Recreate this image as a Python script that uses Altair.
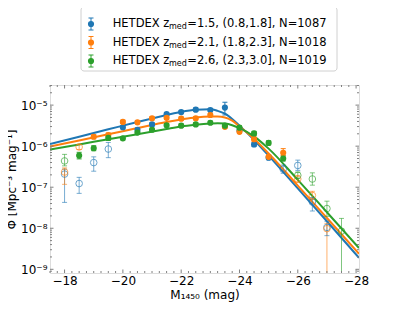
import altair as alt
import numpy as np
import pandas as pd

# ---------------- data ----------------
mag_bins = [-18.0, -18.5, -19.0, -19.5, -20.0, -20.5, -21.0, -21.5, -22.0, -22.5,
            -23.0, -23.5, -24.0, -24.5, -25.0, -25.5, -26.0, -26.5, -27.0, -27.5]

series_names = ["z1.5", "z2.1", "z2.6"]
series_colors = ["#1f77b4", "#ff7f0e", "#2ca02c"]

# log10 Phi for each bin (None = no point)
logphi_15 = [-6.68, -6.91, -6.40, -6.07, -5.54, -5.60, -5.47, -5.22, -5.17, -5.11,
             -5.12, -5.06, -5.62, -5.96, -6.28, -6.56, -6.47, -7.36, -7.98, None]
errup_15 = [0.12, 0.15, 0.14, 0.16, 0.04, 0.04, 0.04, 0.04, 0.04, 0.04,
            0.04, 0.13, 0.04, 0.05, 0.05, 0.10, 0.13, 0.11, 0.15, None]
errdn_15 = [0.69, 0.24, 0.21, 0.21, 0.04, 0.04, 0.04, 0.04, 0.04, 0.04,
            0.04, 0.18, 0.04, 0.05, 0.05, 0.10, 0.12, 0.22, 0.20, None]
open_15 = [1, 1, 1, 1, 0, 0, 0, 0, 0, 0, 0, 0, 0, 0, 0, 1, 1, 1, 1, None]

logphi_21 = [-6.63, -6.02, -5.77, -5.73, -5.41, -5.42, -5.32, -5.31, -5.33, -5.32,
             -5.24, -5.53, -5.65, -5.83, -6.26, -6.16, -6.80, -7.20, -8.01, None]
errup_21 = [0.10, 0.06, 0.05, 0.05, 0.04, 0.04, 0.04, 0.04, 0.04, 0.04,
            0.04, 0.04, 0.04, 0.05, 0.05, 0.10, 0.08, 0.10, 0.13, None]
errdn_21 = [0.30, 0.06, 0.05, 0.05, 0.04, 0.04, 0.04, 0.04, 0.04, 0.04,
            0.04, 0.04, 0.04, 0.05, 0.05, 0.07, 0.08, 0.10, 3.00, None]
open_21 = [1, 1, 0, 0, 0, 0, 0, 0, 0, 0, 0, 0, 0, 0, 0, 0, 1, 1, 1, None]

logphi_26 = [-6.36, -6.23, -6.05, -5.80, -5.81, -5.67, -5.60, -5.49, -5.50, -5.47,
             -5.43, -5.50, -5.55, -5.69, -5.92, -6.30, -6.71, -6.80, -7.52, -8.07]
errup_26 = [0.16, 0.08, 0.06, 0.06, 0.04, 0.04, 0.04, 0.04, 0.04, 0.04,
            0.04, 0.04, 0.04, 0.05, 0.05, 0.06, 0.08, 0.15, 0.18, 0.31]
errdn_26 = [0.12, 0.08, 0.06, 0.06, 0.04, 0.04, 0.04, 0.04, 0.04, 0.04,
            0.04, 0.04, 0.04, 0.05, 0.05, 0.06, 0.08, 0.15, 0.19, 3.00]
open_26 = [1, 0, 0, 0, 0, 0, 0, 0, 0, 0, 0, 0, 0, 0, 0, 0, 1, 1, 1, 1]

# fitted double power-law curves
curve_mags = [-17.5, -18.5, -19.5, -20.5, -21.5, -22.0, -22.5, -23.0, -23.25, -23.5,
              -23.75, -24.0, -24.5, -25.0, -26.0, -27.0, -28.1]
curve_15 = [-5.95, -5.77, -5.59, -5.41, -5.24, -5.16, -5.11, -5.10, -5.14, -5.21,
            -5.34, -5.50, -5.85, -6.23, -7.03, -7.83, -8.72]
curve_21 = [-6.01, -5.86, -5.71, -5.56, -5.41, -5.35, -5.30, -5.28, -5.28, -5.30,
            -5.38, -5.52, -5.82, -6.18, -6.96, -7.75, -8.62]
curve_26 = [-6.08, -5.96, -5.83, -5.71, -5.58, -5.52, -5.48, -5.45, -5.44, -5.45,
            -5.49, -5.56, -5.76, -6.06, -6.82, -7.61, -8.48]

legend_left = ["HETDEX z", "HETDEX z", "HETDEX z"]
legend_sub = ["med", "med", "med"]
legend_right = ["=1.5, (0.8,1.8], N=1087",
                "=2.1, (1.8,2.3], N=1018",
                "=2.6, (2.3,3.0], N=1019"]

x_major = [-18, -20, -22, -24, -26, -28]
y_major_exp = [-9, -8, -7, -6, -5]

# ---------------- build tables ----------------
rows = []
for name, lp, eu, ed, op in [
    ("z1.5", logphi_15, errup_15, errdn_15, open_15),
    ("z2.1", logphi_21, errup_21, errdn_21, open_21),
    ("z2.6", logphi_26, errup_26, errdn_26, open_26),
]:
    for m, v, u, d, o in zip(mag_bins, lp, eu, ed, op):
        if v is None:
            continue
        rows.append(dict(series=name, mag=m, phi=10 ** v, hi=10 ** (v + u),
                         lo=10 ** (v - d), open=o, alpha=0.6 if o else 1.0))
pts = pd.DataFrame(rows)

crow = []
for name, cv in [("z1.5", curve_15), ("z2.1", curve_21), ("z2.6", curve_26)]:
    for m, v in zip(curve_mags, cv):
        crow.append(dict(series=name, mag=m, phi=10 ** v))
curves = pd.DataFrame(crow)

x_minor = [v for v in np.arange(-17.5, -28.01, -0.25) if abs(v - round(v / 2) * 2) > 1e-6]
y_minor = [k * 10.0 ** e for e in range(-10, -4) for k in range(2, 10)]
ymin, ymax = 10 ** -9.09, 10 ** -4.51
y_minor = [v for v in y_minor if ymin < v < ymax]
df_xmaj = pd.DataFrame({"v": x_major})
df_xmin = pd.DataFrame({"v": x_minor})
df_ymaj = pd.DataFrame({"v": [10.0 ** e for e in y_major_exp]})
df_ymin = pd.DataFrame({"v": y_minor})

# ---------------- styling ----------------
W, H = 309, 188
FONT = "DejaVu Sans"
FRAME = "#808080"
xscale = alt.Scale(domain=[-28.1, -17.5], reverse=True, nice=False, zero=False)
yscale = alt.Scale(type="log", domain=[ymin, ymax], nice=False)
cscale = alt.Scale(domain=series_names, range=series_colors)

xaxis = alt.Axis(values=x_major, ticks=False, domain=False, grid=False,
                 labelExpr="'\u2212' + abs(datum.value)", labelFont=FONT, labelFontSize=12,
                 labelColor="black", labelPadding=2, title="M\u2081\u2084\u2085\u2080 (mag)",
                 titleFont=FONT, titleFontSize=12, titleFontWeight="normal",
                 titleColor="black", titlePadding=3, labelFlush=False, labelOverlap=False)
yaxis = alt.Axis(values=[10.0 ** e for e in y_major_exp], ticks=False, domain=False, grid=False,
                 labelExpr="'10\u207b' + ['\u2070','\u00b9','\u00b2','\u00b3','\u2074','\u2075','\u2076','\u2077','\u2078','\u2079'][-round(log(datum.value)/LN10)]",
                 labelFont=FONT, labelFontSize=12, labelColor="black", labelPadding=3,
                 title="\u03a6 [Mpc\u207b\u00b3 mag\u207b\u00b9]", titleFont=FONT, titleFontSize=12,
                 titleFontWeight="normal", titleColor="black",
                 titleX=-38.5, titleY=H / 2, titleAngle=270, titleAlign="center",
                 titleBaseline="middle",
                 labelFlush=False, labelOverlap=False)

X = lambda f: alt.X(f, type="quantitative", scale=xscale, axis=xaxis)
Y = lambda f: alt.Y(f, type="quantitative", scale=yscale, axis=yaxis)
C = alt.Color("series:N", scale=cscale, legend=None)

lines = alt.Chart(curves).mark_line(strokeWidth=2, interpolate="monotone", clip=True).encode(
    x=X("mag"), y=Y("phi"), color=C, detail="series:N")

ebars = alt.Chart(pts).mark_rule(strokeWidth=1, clip=True).encode(
    x=X("mag"), y=Y("lo"), y2="hi:Q", color=C, opacity=alt.Opacity("alpha:Q", scale=None))
cap_lo = alt.Chart(pts).mark_tick(orient="horizontal", size=5, thickness=1, clip=True).encode(
    x=X("mag"), y=Y("lo"), color=C, opacity=alt.Opacity("alpha:Q", scale=None))
cap_hi = alt.Chart(pts).mark_tick(orient="horizontal", size=5, thickness=1, clip=True).encode(
    x=X("mag"), y=Y("hi"), color=C, opacity=alt.Opacity("alpha:Q", scale=None))

filled = alt.Chart(pts).transform_filter("datum.open == 0").mark_point(
    filled=True, shape="circle", size=38, opacity=1).encode(x=X("mag"), y=Y("phi"), color=C)
hollow = alt.Chart(pts).transform_filter("datum.open == 1").mark_point(
    filled=False, shape="circle", size=44, strokeWidth=1, opacity=0.65).encode(
    x=X("mag"), y=Y("phi"), color=C)

tick_layers = []
for df, ln in [(df_xmaj, 3.5), (df_xmin, 2)]:
    tick_layers.append(alt.Chart(df).mark_rule(color=FRAME, strokeWidth=1).encode(
        x=X("v"), y=alt.value(H), y2=alt.value(H - ln)))
    tick_layers.append(alt.Chart(df).mark_rule(color=FRAME, strokeWidth=1).encode(
        x=X("v"), y=alt.value(0), y2=alt.value(ln)))
for df, ln in [(df_ymaj, 3.5), (df_ymin, 2)]:
    tick_layers.append(alt.Chart(df).mark_rule(color=FRAME, strokeWidth=1).encode(
        y=Y("v"), x=alt.value(0), x2=alt.value(ln)))
    tick_layers.append(alt.Chart(df).mark_rule(color=FRAME, strokeWidth=1).encode(
        y=Y("v"), x=alt.value(W), x2=alt.value(W - ln)))

# ---------------- custom legend (subscript needs separate text pieces) ----------------
one = pd.DataFrame({"a": [0]})
leg_layers = [alt.Chart(one).mark_rect(fill="white", stroke="#cccccc", strokeWidth=1,
                                       cornerRadius=3, opacity=0.9).encode(
    x=alt.value(31), x2=alt.value(287), y=alt.value(-78), y2=alt.value(-14))]
row_y = [-61, -42.5, -24]
mx = 41
for i in range(3):
    yy = row_y[i]
    col = series_colors[i]
    leg_layers.append(alt.Chart(one).mark_rule(color=col, strokeWidth=1).encode(
        x=alt.value(mx), y=alt.value(yy - 6), y2=alt.value(yy + 6)))
    for dy in (-6, 6):
        leg_layers.append(alt.Chart(one).mark_rule(color=col, strokeWidth=1).encode(
            x=alt.value(mx - 2.5), x2=alt.value(mx + 2.5), y=alt.value(yy + dy)))
    leg_layers.append(alt.Chart(one).mark_point(filled=True, shape="circle", size=38,
                                                color=col, opacity=1).encode(
        x=alt.value(mx), y=alt.value(yy)))
    leg_layers.append(alt.Chart(pd.DataFrame({"t": [legend_left[i]]})).mark_text(
        align="left", baseline="middle", font=FONT, fontSize=11.5, color="black").encode(
        x=alt.value(62.7), y=alt.value(yy), text="t:N"))
    leg_layers.append(alt.Chart(pd.DataFrame({"t": [legend_sub[i]]})).mark_text(
        align="left", baseline="middle", font=FONT, fontSize=8, color="black").encode(
        x=alt.value(119), y=alt.value(yy + 3), text="t:N"))
    leg_layers.append(alt.Chart(pd.DataFrame({"t": [legend_right[i]]})).mark_text(
        align="left", baseline="middle", font=FONT, fontSize=11.5, color="black").encode(
        x=alt.value(137.3), y=alt.value(yy), text="t:N"))

chart = alt.layer(lines, ebars, cap_lo, cap_hi, filled, hollow, *tick_layers, *leg_layers).properties(
    width=W, height=H,
    autosize=alt.AutoSizeParams(type="none"),
    padding={"left": 42, "top": 77, "right": 30, "bottom": 30},
).configure_view(stroke=FRAME, strokeWidth=1).configure(background="white")

chart.save("out.html", embed_options={"renderer": "svg", "actions": False})
